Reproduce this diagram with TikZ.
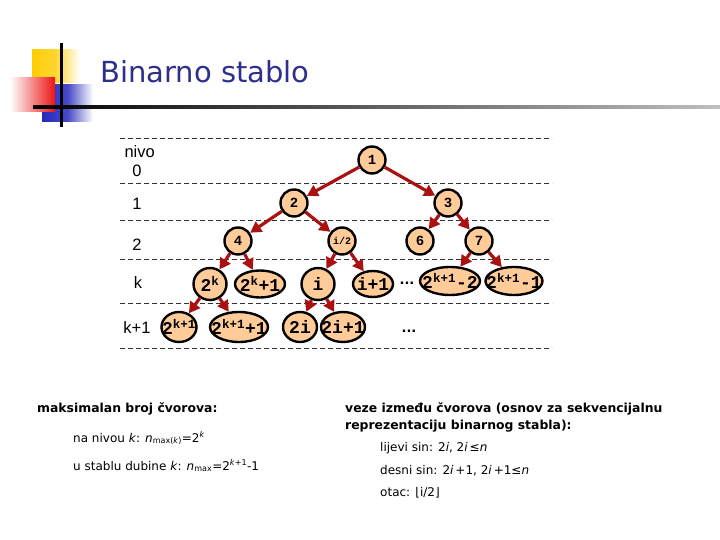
\documentclass[tikz,border=0pt]{standalone}
\usepackage{fontspec}
\setmainfont{DejaVu Sans}
\newfontfamily\labelfont{Liberation Sans}
\newfontfamily\nodefont{Liberation Mono}
\usetikzlibrary{arrows.meta,shapes.geometric}
\definecolor{titleblue}{RGB}{46,46,140}
\definecolor{nodefill}{RGB}{255,204,153}
\definecolor{edgered}{RGB}{170,18,18}
\definecolor{decoyellow}{RGB}{255,204,0}
\definecolor{decored}{RGB}{235,20,20}
\definecolor{decoblue}{RGB}{40,40,190}
\newcommand\vlabel[1]{\makebox[0pt]{#1}}
\begin{document}
\begin{tikzpicture}[x=1pt,y=-1pt,
  vert/.style={circle, draw, line width=2.4pt, fill=nodefill, inner sep=0pt, minimum size=27pt, font=\nodefont\bfseries\fontsize{14}{14}\selectfont},
  bigvert/.style={ellipse, draw, line width=2.4pt, fill=nodefill, inner sep=0pt, minimum height=29pt, font=\nodefont\bfseries\fontsize{18}{18}\selectfont},
  edge/.style={-{Triangle[length=11pt,width=12pt]}, line width=3.2pt, draw=edgered, fill=edgered},
  level/.style={font=\labelfont\fontsize{16.5}{16.5}\selectfont, anchor=base},
  guide/.style={dash pattern=on 5pt off 3pt, line width=0.8pt, black!80},
  bold/.style={font=\bfseries\fontsize{12.4}{15}\selectfont, anchor=base west, inner sep=0pt},
  plain/.style={font=\fontsize{12}{14}\selectfont, anchor=base west, inner sep=0pt}
]
\useasboundingbox (0,0) rectangle (720,540);

% title decoration
\shade[left color=decoyellow, right color=white, middle color=decoyellow!80] (32,50) rectangle (80,83);
\shade[left color=decoblue, right color=white, middle color=decoblue!85] (42,85) rectangle (93,122);
\shade[left color=white, right color=decored] (10,78) rectangle (55,112);
\shade[left color=black, right color=black!25] (33,105.5) rectangle (720,108.5);
\fill[black] (59.5,43) rectangle (62.5,127);
\node[font=\fontsize{29}{29}\selectfont, text=titleblue, anchor=base west, inner sep=0pt] (title) at (100,83) {Binarno stablo};

% levels
\foreach \y in {138,183,220,259,303,348}
  \draw[guide] (120,\y) -- (552,\y);
\node[level, anchor=base west] (nivo) at (121,158) {nivo};
\node[level] (l0) at (137,177) {0};
\node[level] (l1) at (137,210) {1};
\node[level] (l2) at (137,250) {2};
\node[level] (lk) at (138,288) {k};
\node[level] (lk1) at (137,333) {k+1};

% tree
\node[vert] (n1) at (372,160) {1};
\node[vert] (n2) at (294,203) {2};
\node[vert] (n3) at (448,203) {3};
\node[vert] (n4) at (238,241) {4};
\node[vert, font=\nodefont\bfseries\fontsize{10}{10}\selectfont] (nh) at (342,241) {i/2};
\node[vert] (n6) at (420,241) {6};
\node[vert] (n7) at (479,241) {7};
\node[bigvert, minimum width=33pt, minimum height=32pt] (p) at (210,284) {\vlabel{2\textsuperscript{k}}};
\node[bigvert, minimum width=50pt, minimum height=27pt] (p1) at (260,284) {\vlabel{2\textsuperscript{k}+1}};
\node[bigvert, minimum width=33pt, minimum height=32pt] (ni) at (318,284) {\vlabel{i}};
\node[bigvert, minimum width=40pt, minimum height=26pt] (ni1) at (373,284) {\vlabel{i+1}};
\node[font=\bfseries\fontsize{13}{13}\selectfont] (dots1) at (407,283) {...};
\node[bigvert, minimum width=60pt, minimum height=28pt] (q2) at (450,281) {\vlabel{2\textsuperscript{k+1}-2}};
\node[bigvert, minimum width=57pt, minimum height=28pt] (q1) at (514,281) {\vlabel{2\textsuperscript{k+1}-1}};
\node[bigvert, minimum width=35pt, minimum height=30pt] (r) at (179,327) {\vlabel{2\textsuperscript{k+1}}};
\node[bigvert, minimum width=58pt, minimum height=30pt] (r1) at (239,327) {\vlabel{2\textsuperscript{k+1}+1}};
\node[bigvert, minimum width=34pt, minimum height=30pt] (m) at (300,327) {\vlabel{2i}};
\node[bigvert, minimum width=44pt, minimum height=30pt] (m1) at (343,327) {\vlabel{2i+1}};
\node[font=\bfseries\fontsize{13}{13}\selectfont] (dots2) at (409,331) {...};

\draw[edge] (n1) -- (n2);
\draw[edge] (n1) -- (n3);
\draw[edge] (n2) -- (n4);
\draw[edge] (n2) -- (nh);
\draw[edge] (n3) -- (n6);
\draw[edge] (n3) -- (n7);
\draw[edge] (n4) -- (p);
\draw[edge] (n4) -- (p1);
\draw[edge] (nh) -- (ni);
\draw[edge] (nh) -- (ni1);
\draw[edge] (n7) -- (q2);
\draw[edge] (n7) -- (q1);
\draw[edge] (p) -- (r);
\draw[edge] (p) -- (r1);
\draw[edge] (ni) -- (m);
\draw[edge] (ni) -- (m1);

% notes
\node[bold] (maxhead) at (37,412) {maksimalan broj čvorova:};
\node[plain] (maxlvl) at (73,442) {na nivou \textit{k}: \textit{n}\textsubscript{max(\textit{k})}=2\textsuperscript{\textit{k}}};
\node[plain] (maxtree) at (73,470) {u stablu dubine \textit{k}: \textit{n}\textsubscript{max}=2\textsuperscript{\textit{k}+1}-1};
\node[bold] (linkhead) at (345,412) {veze između čvorova (osnov za sekvencijalnu};
\node[bold] (linkhead2) at (345,429) {reprezentaciju binarnog stabla):};
\node[plain] (left) at (380,451) {lijevi sin: 2\textit{i}, 2\textit{i}\,≤\textit{n}};
\node[plain] (right) at (380,474) {desni sin: 2\textit{i}\,+1, 2\textit{i}\,+1≤\textit{n}};
\node[plain] (parent) at (380,496) {otac: ⌊i/2⌋};
\end{tikzpicture}
\end{document}
